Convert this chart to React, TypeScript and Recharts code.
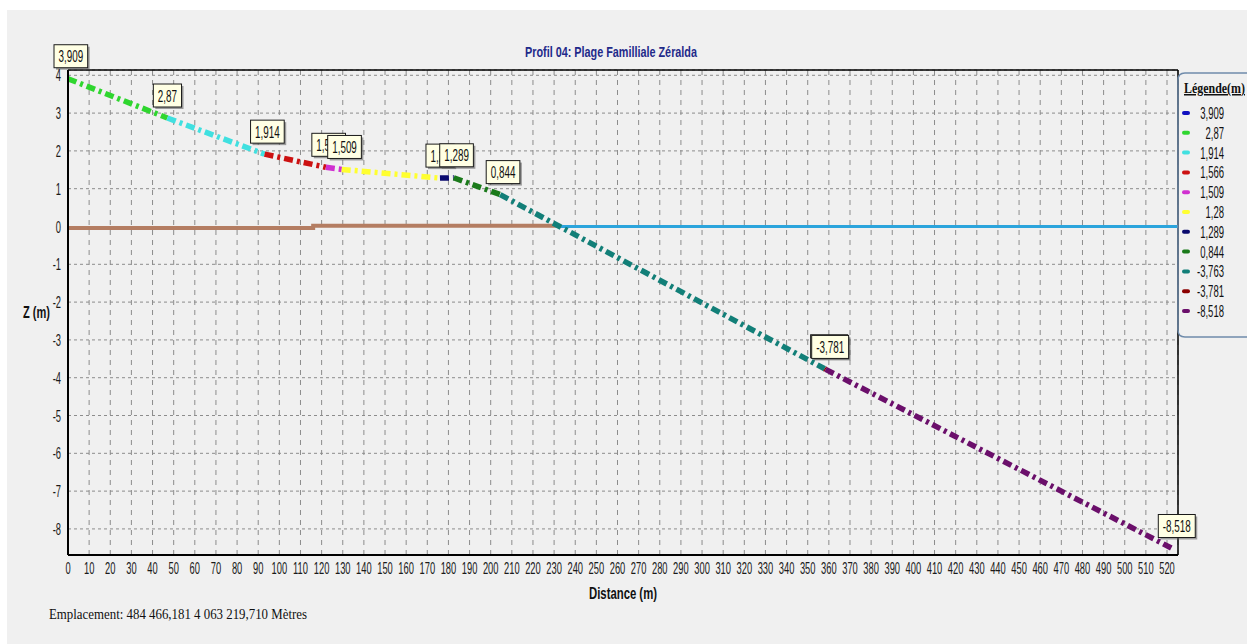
import { LineChart, Line, XAxis, YAxis, CartesianGrid, ReferenceDot, ReferenceLine } from "recharts";

const SANS = "'Liberation Sans', Arial, sans-serif";
const SERIF = "'Liberation Serif', 'Times New Roman', serif";

// profile points (distance m, elevation m), each segment coloured by its end value
const profileDist = [0, 47, 93, 122, 129.5, 176, 182.5, 204.5, 358, 358.5, 522.5];
const profileZ = [3.909, 2.87, 1.914, 1.566, 1.509, 1.28, 1.289, 0.844, -3.763, -3.781, -8.518];
const profileColors = [
  "#1010c0", "#2fd62f", "#40e0e0", "#cc1111", "#d030d0", "#ffff30",
  "#0a0a6e", "#1b7a1b", "#127f78", "#8b0000", "#6b0f6b",
];

// shoreline / water level
const groundLevel = [
  { x: 0, z: -0.04 },
  { x: 116, z: -0.04 },
  { x: 116, z: 0.02 },
  { x: 233, z: 0.02 },
];
const seaLevel = [
  { x: 233, z: 0 },
  { x: 525.2, z: 0 },
];

const xTicks = [
  0, 10, 20, 30, 40, 50, 60, 70, 80, 90, 100, 110, 120, 130, 140, 150, 160, 170, 180, 190,
  200, 210, 220, 230, 240, 250, 260, 270, 280, 290, 300, 310, 320, 330, 340, 350, 360, 370,
  380, 390, 400, 410, 420, 430, 440, 450, 460, 470, 480, 490, 500, 510, 520,
];
const yTicks = [4, 3, 2, 1, 0, -1, -2, -3, -4, -5, -6, -7, -8];

const X_MAX = 525.2;
const Y_MIN = -8.69;
const Y_MAX = 4.14;

const fmt = (v: number) => String(v).replace(".", ",");

const segments = profileZ.slice(1).map((z, i) => ({
  color: profileColors[i + 1],
  data: [
    { x: profileDist[i], z: profileZ[i] },
    { x: profileDist[i + 1], z },
  ],
}));

function XTick({ x, y, payload }: any) {
  return (
    <text transform={`translate(${x},${y}) scale(0.55,1)`} textAnchor="middle" fontFamily={SANS} fontSize={17} fill="#1a1a1a">
      {payload.value}
    </text>
  );
}

function YTick({ x, y, payload }: any) {
  return (
    <text transform={`translate(${x},${y + 6}) scale(0.55,1)`} textAnchor="end" fontFamily={SANS} fontSize={17} fill="#1a1a1a">
      {payload.value}
    </text>
  );
}

function textW(s: string) {
  let w = 0;
  for (const c of s) w += c === "," ? 0.278 : c === "-" ? 0.333 : 0.556;
  return w * 17 * 0.58;
}

function ValueBox(props: any) {
  const vb = props.viewBox ?? props;
  const cx = vb.x + (vb.width || 0) / 2;
  const cy = vb.y + (vb.height || 0) / 2;
  const w = textW(props.text) + 9;
  const h = 23;
  const left = cx - 14;
  const bottom = cy - 11;
  const top = bottom - h;
  return (
    <g>
      <rect x={left + 2} y={top + 2} width={w} height={h} fill="#555" opacity={0.55} />
      <rect x={left} y={top} width={w} height={h} fill="#ffffe4" stroke="#1a1a1a" strokeWidth={1} />
      <text transform={`translate(${left + w / 2},${bottom - 5.5}) scale(0.58,1)`} textAnchor="middle" fontFamily={SANS} fontSize={17} fill="#111">
        {props.text}
      </text>
    </g>
  );
}

export default function App() {
  return (
    <div style={{ position: "relative", width: 1247, height: 644, background: "#fff", overflow: "hidden" }}>
      <style>{"body{margin:0}"}</style>
      <div style={{ position: "absolute", left: 7, top: 10, right: 0, bottom: 0, background: "#f0f0f0" }} />
      <div style={{ position: "absolute", left: 0, top: 0 }}>
        <LineChart width={1247} height={644} margin={{ top: 70, right: 69, bottom: 59, left: 8 }}>
          <CartesianGrid horizontal vertical={false} stroke="#8c8c8c" strokeDasharray="3 3" />
          <CartesianGrid horizontal={false} vertical stroke="#8c8c8c" strokeDasharray="5 5" />
          <XAxis
            dataKey="x"
            type="number"
            domain={[0, X_MAX]}
            allowDataOverflow
            ticks={xTicks}
            interval={0}
            height={30}
            tickSize={0}
            tickMargin={19}
            tick={<XTick />}
            axisLine={{ stroke: "#000", strokeWidth: 2 }}
          />
          <YAxis
            type="number"
            domain={[Y_MIN, Y_MAX]}
            allowDataOverflow
            ticks={yTicks}
            interval={0}
            width={60}
            tickSize={0}
            tickMargin={7}
            tick={<YTick />}
            axisLine={{ stroke: "#000", strokeWidth: 2 }}
          />
          <ReferenceLine y={Y_MAX} stroke="#000" strokeWidth={1.5} />
          <ReferenceLine x={X_MAX} stroke="#000" strokeWidth={1.5} />
          <Line data={groundLevel} dataKey="z" type="linear" stroke="#b47d62" strokeWidth={4} dot={false} isAnimationActive={false} />
          <Line data={seaLevel} dataKey="z" type="linear" stroke="#2ba4dc" strokeWidth={3} dot={false} isAnimationActive={false} />
          {segments.map((s, i) => (
            <Line
              key={i}
              data={s.data}
              dataKey="z"
              type="linear"
              stroke={s.color}
              strokeWidth={5.5}
              strokeDasharray="9 4 3 4"
              dot={false}
              isAnimationActive={false}
            />
          ))}
          {profileZ.map((z, i) => (
            <ReferenceDot
              key={"l" + i}
              x={profileDist[i]}
              y={z}
              r={1}
              fill="none"
              stroke="none"
              label={<ValueBox text={fmt(z)} />}
            />
          ))}
        </LineChart>
      </div>
      <svg width={1247} height={644} style={{ position: "absolute", left: 0, top: 0, pointerEvents: "none" }}>
        <text x={611} y={57} textAnchor="middle" fontFamily={SANS} fontWeight="bold" fontSize={15} fill="#1f2a8a" textLength={172} lengthAdjust="spacingAndGlyphs">
          Profil 04: Plage Familliale Zéralda
        </text>
        <text x={23} y={318} fontFamily={SANS} fontWeight="bold" fontSize={16} fill="#111" textLength={27} lengthAdjust="spacingAndGlyphs">
          Z (m)
        </text>
        <text x={589} y={599} fontFamily={SANS} fontWeight="bold" fontSize={16} fill="#111" textLength={68} lengthAdjust="spacingAndGlyphs">
          Distance (m)
        </text>
        <text x={49} y={619} fontFamily={SERIF} fontSize={15} fill="#111" textLength={258} lengthAdjust="spacingAndGlyphs">
          Emplacement: 484 466,181  4 063 219,710 Mètres
        </text>
        <path d="M1260,73 L1185,73 Q1178,73 1178,80 L1178,330 Q1178,337 1185,337 L1260,337" fill="none" stroke="#6f8bab" strokeWidth={1.5} />
        <text x={1184} y={93} fontFamily={SERIF} fontWeight="bold" fontSize={15} fill="#111" textDecoration="underline" textLength={61} lengthAdjust="spacingAndGlyphs">
          Légende(m)
        </text>
        {profileZ.map((z, i) => {
          const y = 113 + i * 19.8;
          return (
            <g key={i}>
              <rect x={1182} y={y - 2} width={8} height={4} rx={2} fill={profileColors[i]} />
              <text transform={`translate(1224,${y + 6}) scale(0.56,1)`} textAnchor="end" fontFamily={SANS} fontSize={17} fill="#111">
                {fmt(z)}
              </text>
            </g>
          );
        })}
      </svg>
    </div>
  );
}
